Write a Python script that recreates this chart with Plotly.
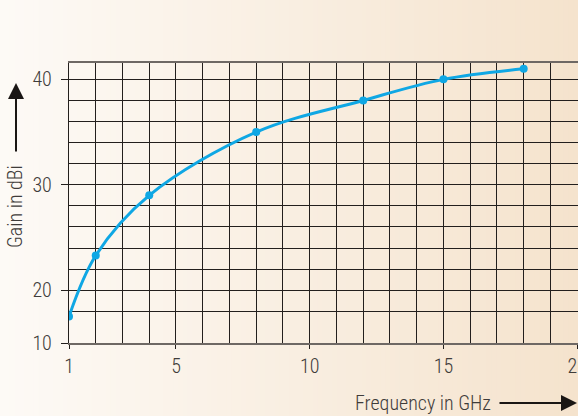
import plotly.graph_objects as go

# ---- data ----
freq_ghz = [1, 2, 4, 8, 12, 15, 18]
gain_dbi = [16.7, 23.3, 29.0, 35.0, 38.0, 40.0, 41.0]

x_tick_vals = [1, 5, 10, 15, 20]
x_grid_vals = list(range(1, 20))
y_tick_vals = [10, 20, 30, 40]
y_grid_vals = list(range(18, 42, 2))

# broken y axis: 10..18 compressed into 3 units below 18
BREAK_LOW, BREAK_HIGH, BREAK_SPAN = 10.0, 18.0, 3.0


def ymap(v):
    if v >= BREAK_HIGH:
        return v
    return BREAK_HIGH - (BREAK_HIGH - v) * BREAK_SPAN / (BREAK_HIGH - BREAK_LOW)


W, H = 578, 416
ML, MR, MT, MB = 69, 0, 63, 73
PW, PH = W - ML - MR, H - MT - MB

FONT = "Roboto Condensed, DejaVu Sans Condensed, sans-serif"
TXT = "#3f3c3a"
GRID = "#231f1d"
BLUE = "#0fa7e4"


def px_to_paper_x(px):
    return (px - ML) / PW


def px_to_paper_y(py):
    return (H - MB - py) / PH


fig = go.Figure()
fig.add_trace(go.Scatter(
    x=freq_ghz,
    y=[ymap(v) for v in gain_dbi],
    mode="lines+markers",
    line=dict(color=BLUE, width=3, shape="spline", smoothing=1.0),
    marker=dict(color=BLUE, size=8),
    hoverinfo="skip",
    showlegend=False,
))

# background gradient (left near-white to right beige)
c0 = (253, 250, 246)
c1 = (245, 227, 205)
N = 120
shapes = []
for i in range(N):
    t = i / (N - 1)
    col = tuple(round(a + (b - a) * t) for a, b in zip(c0, c1))
    x0 = -ML / PW + (W / PW) * i / N
    x1 = -ML / PW + (W / PW) * (i + 1) / N + 0.002
    shapes.append(dict(
        type="rect", xref="paper", yref="paper",
        x0=x0, x1=x1, y0=-MB / PH, y1=(H - MB) / PH,
        fillcolor="rgb(%d,%d,%d)" % col, line=dict(width=0), layer="below",
    ))

TFONT = dict(family=FONT, size=20, color=TXT, weight=300)

annotations = [
    dict(text="Gain in dBi", xref="paper", yref="paper",
         x=px_to_paper_x(15), y=px_to_paper_y(207), textangle=-90,
         showarrow=False, font=TFONT,
         xanchor="center", yanchor="middle"),
    dict(text="Frequency in GHz", xref="paper", yref="paper",
         x=px_to_paper_x(423), y=px_to_paper_y(403),
         showarrow=False, font=TFONT,
         xanchor="center", yanchor="middle"),
    # up arrow
    dict(text="", xref="paper", yref="paper",
         x=px_to_paper_x(16), y=px_to_paper_y(83), ax=0, ay=70,
         showarrow=True, arrowhead=2, arrowsize=1.6, arrowwidth=2,
         arrowcolor="#1a1614"),
    # right arrow
    dict(text="", xref="paper", yref="paper",
         x=px_to_paper_x(578), y=px_to_paper_y(403), ax=-80, ay=0,
         showarrow=True, arrowhead=2, arrowsize=1.6, arrowwidth=2,
         arrowcolor="#1a1614"),
]

fig.update_layout(
    width=W, height=H,
    margin=dict(l=ML, r=MR, t=MT, b=MB, autoexpand=False),
    paper_bgcolor="rgb(253,250,246)",
    plot_bgcolor="rgba(0,0,0,0)",
    shapes=shapes,
    annotations=annotations,
    font=TFONT,
)

fig.update_xaxes(
    range=[1, 20.03],
    tickmode="array", tickvals=x_tick_vals,
    ticktext=[str(v) for v in x_tick_vals],
    ticks="outside", ticklen=4, tickwidth=1.3, tickcolor=GRID,
    ticklabelstandoff=0, ticklabeloverflow="allow",
    showgrid=True, gridcolor=GRID, gridwidth=1.3,
    minor=dict(tickmode="array", tickvals=x_grid_vals, showgrid=True,
               gridcolor=GRID, gridwidth=1.3, ticks=""),
    showline=True, mirror=True, linecolor="#6e6864", linewidth=1.5,
    zeroline=False,
    tickfont=TFONT,
)

fig.update_yaxes(
    range=[ymap(BREAK_LOW), 41.55],
    tickmode="array", tickvals=[ymap(v) for v in y_tick_vals],
    ticktext=[str(v) for v in y_tick_vals],
    ticks="outside", ticklen=7, tickwidth=1.3, tickcolor=GRID,
    ticklabelstandoff=5,
    showgrid=True, gridcolor=GRID, gridwidth=1.3,
    minor=dict(tickmode="array", tickvals=y_grid_vals, showgrid=True,
               gridcolor=GRID, gridwidth=1.3, ticks=""),
    showline=True, linecolor=GRID, linewidth=1.3,
    zeroline=False,
    tickfont=TFONT,
)

fig.write_html("out.html", post_script="document.body.style.margin='0';",
               config={"displayModeBar": False})
